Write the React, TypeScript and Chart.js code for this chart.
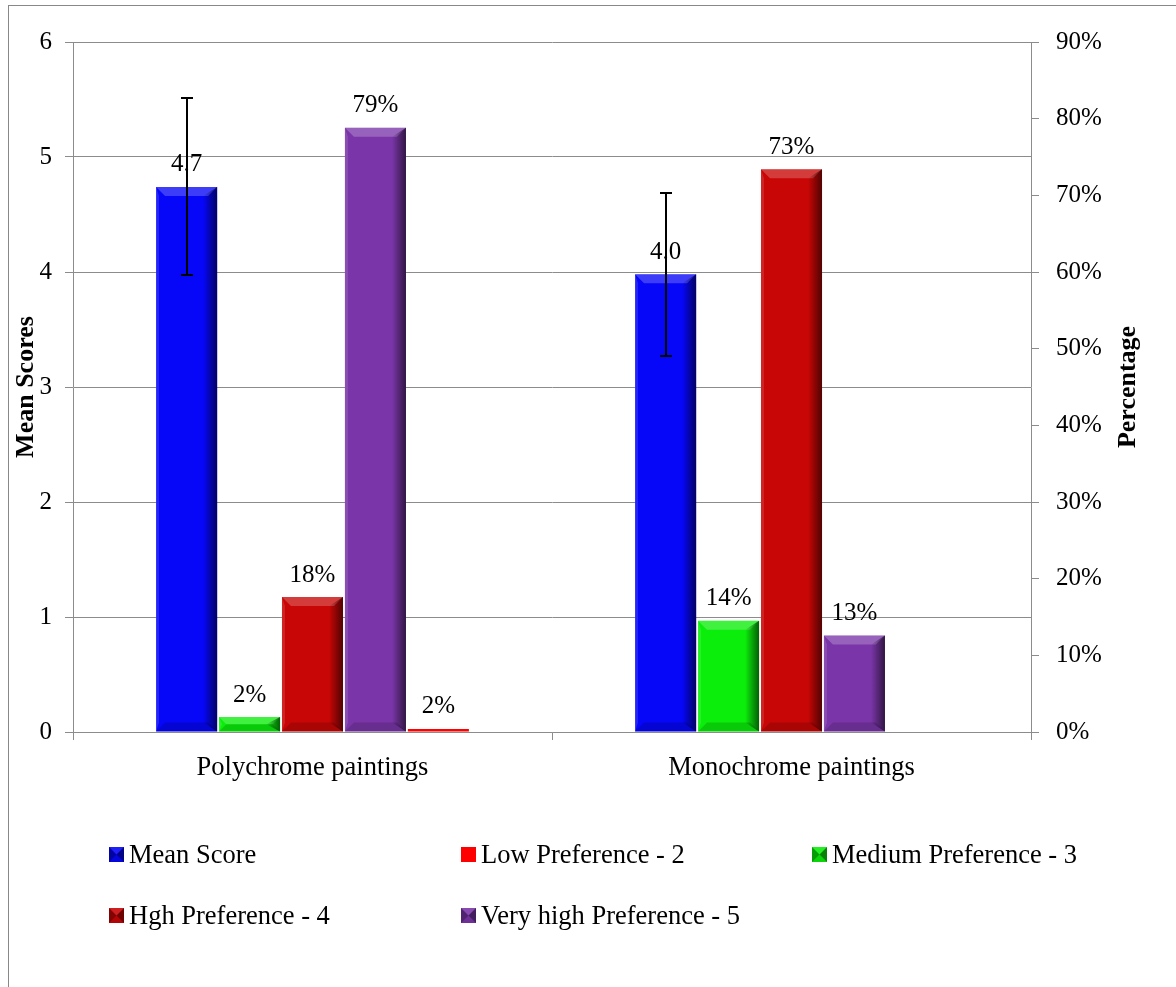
import React, { useEffect, useRef } from "react";
import { Chart, registerables } from "chart.js";

Chart.register(...registerables);

// ---------- data ----------
const categories = ["Polychrome paintings", "Monochrome paintings"];

const meanScore = [4.74, 3.98];
const meanError = [0.77, 0.71];
const meanLabels = ["4.7", "4.0"];

const lowPref = [0.4, 0];
const lowLabels = ["2%", ""];

const mediumPref = [1.96, 14.5];
const mediumLabels = ["2%", "14%"];

const highPref = [17.6, 73.4];
const highLabels = ["18%", "73%"];

const veryHighPref = [78.8, 12.6];
const veryHighLabels = ["79%", "13%"];

const leftMax = 6;
const leftStep = 1;
const rightMax = 90;
const rightStep = 10;

const legendOrder = [
  "Mean Score",
  "Low Preference - 2",
  "Medium Preference - 3",
  "Hgh Preference - 4",
  "Very high Preference - 5",
];

const SERIF = "'Liberation Serif', 'Times New Roman', serif";
const GRID = "#8c8c8c";

function drawBevelBar(ctx: CanvasRenderingContext2D, l: number, r: number, t: number, b: number) {
  const h = b - t;
  const w = r - l;
  if (h < 4) return;
  const bv = Math.min(9, h / 2, w / 2);
  ctx.save();
  // top highlight
  ctx.beginPath();
  ctx.moveTo(l, t);
  ctx.lineTo(r, t);
  ctx.lineTo(r - bv, t + bv);
  ctx.lineTo(l + bv, t + bv);
  ctx.closePath();
  ctx.fillStyle = "rgba(255,255,255,0.22)";
  ctx.fill();
  // bottom shade
  ctx.beginPath();
  ctx.moveTo(l, b);
  ctx.lineTo(r, b);
  ctx.lineTo(r - bv, b - bv);
  ctx.lineTo(l + bv, b - bv);
  ctx.closePath();
  ctx.fillStyle = "rgba(0,0,0,0.15)";
  ctx.fill();
  // right shade gradient
  const g = ctx.createLinearGradient(r - 14, 0, r, 0);
  g.addColorStop(0, "rgba(0,0,0,0)");
  g.addColorStop(1, "rgba(0,0,0,0.6)");
  ctx.beginPath();
  ctx.moveTo(r - 14, t + bv);
  ctx.lineTo(r, t);
  ctx.lineTo(r, b);
  ctx.lineTo(r - 14, b - bv);
  ctx.closePath();
  ctx.fillStyle = g;
  ctx.fill();
  // left slight highlight
  ctx.beginPath();
  ctx.moveTo(l, t);
  ctx.lineTo(l + 3, t + bv);
  ctx.lineTo(l + 3, b - bv);
  ctx.lineTo(l, b);
  ctx.closePath();
  ctx.fillStyle = "rgba(255,255,255,0.12)";
  ctx.fill();
  ctx.restore();
}

const decorPlugin = {
  id: "decor",
  beforeDraw(chart: any) {
    const ctx = chart.ctx;
    ctx.save();
    ctx.fillStyle = "#ffffff";
    ctx.fillRect(0, 0, chart.width, chart.height);
    ctx.strokeStyle = "#888888";
    ctx.lineWidth = 1;
    ctx.strokeRect(8.5, 5.5, 3000, 3000);
    ctx.restore();
  },
  afterDatasetsDraw(chart: any) {
    const ctx = chart.ctx;
    chart.data.datasets.forEach((ds: any, i: number) => {
      const meta = chart.getDatasetMeta(i);
      meta.data.forEach((bar: any) => {
        const p = bar.getProps(["x", "y", "base", "width"], true);
        const l = p.x - p.width / 2;
        const r = p.x + p.width / 2;
        const t = Math.min(p.y, p.base);
        const b = Math.max(p.y, p.base);
        drawBevelBar(ctx, l, r, t, b);
      });
    });
    // value labels
    chart.data.datasets.forEach((ds: any, i: number) => {
      const meta = chart.getDatasetMeta(i);
      meta.data.forEach((bar: any, j: number) => {
        const txt = ds.valueLabels ? ds.valueLabels[j] : "";
        if (!txt) return;
        const p = bar.getProps(["x", "y"], true);
        ctx.save();
        ctx.font = `25px ${SERIF}`;
        ctx.fillStyle = "#000";
        ctx.textAlign = "center";
        ctx.textBaseline = "middle";
        ctx.fillText(txt, p.x, p.y - 22);
        ctx.restore();
      });
    });
    // error bars
    chart.data.datasets.forEach((ds: any, i: number) => {
      if (!ds.errors) return;
      const meta = chart.getDatasetMeta(i);
      const ys = chart.scales[ds.yAxisID];
      meta.data.forEach((bar: any, j: number) => {
        const v = ds.data[j];
        const e = ds.errors[j];
        const p = bar.getProps(["x"], true);
        const yt = Math.round(ys.getPixelForValue(v + e));
        const yb = Math.round(ys.getPixelForValue(v - e));
        const x = Math.round(p.x);
        ctx.save();
        ctx.strokeStyle = "#000";
        ctx.lineWidth = 2;
        ctx.beginPath();
        ctx.moveTo(x, yt);
        ctx.lineTo(x, yb);
        ctx.moveTo(x - 6, yt);
        ctx.lineTo(x + 6, yt);
        ctx.moveTo(x - 6, yb);
        ctx.lineTo(x + 6, yb);
        ctx.stroke();
        ctx.restore();
      });
    });
  },
  afterDraw(chart: any) {
    const ctx = chart.ctx;
    // right axis title
    ctx.save();
    ctx.translate(1128, 387);
    ctx.rotate(-Math.PI / 2);
    ctx.font = `bold 26px ${SERIF}`;
    ctx.fillStyle = "#000";
    ctx.textAlign = "center";
    ctx.textBaseline = "middle";
    ctx.fillText("Percentage", 0, 0);
    ctx.restore();

    // legend in grid layout
    const cols = [109, 461, 812];
    const rows = [856, 917];
    legendOrder.forEach((label, k) => {
      const ds = chart.data.datasets.find((d: any) => d.label === label);
      if (!ds) return;
      const cx = cols[k % 3];
      const cy = rows[Math.floor(k / 3)];
      const s = 15;
      const mx = cx;
      const my = cy - 9;
      ctx.save();
      ctx.fillStyle = ds.backgroundColor;
      ctx.fillRect(mx, my, s, s);
      if (ds.bevel) {
        const c = { x: mx + s / 2, y: my + s / 2 };
        const tri = (pts: number[][], col: string) => {
          ctx.beginPath();
          ctx.moveTo(pts[0][0], pts[0][1]);
          ctx.lineTo(pts[1][0], pts[1][1]);
          ctx.lineTo(pts[2][0], pts[2][1]);
          ctx.closePath();
          ctx.fillStyle = col;
          ctx.fill();
        };
        tri([[mx, my], [mx, my + s], [c.x, c.y]], "rgba(0,0,0,0.35)");
        tri([[mx + s, my], [mx + s, my + s], [c.x, c.y]], "rgba(0,0,0,0.45)");
        tri([[mx, my], [mx + s, my], [c.x, c.y]], "rgba(255,255,255,0.1)");
        tri([[mx, my + s], [mx + s, my + s], [c.x, c.y]], "rgba(0,0,0,0.1)");
      }
      ctx.font = `26.5px ${SERIF}`;
      ctx.fillStyle = "#000";
      ctx.textAlign = "left";
      ctx.textBaseline = "middle";
      ctx.fillText(label, mx + s + 5, cy);
      ctx.restore();
    });
  },
};

export default function App() {
  const ref = useRef<HTMLCanvasElement | null>(null);

  useEffect(() => {
    if (!ref.current) return;
    const chart = new Chart(ref.current, {
      type: "bar",
      data: {
        labels: categories,
        datasets: [
          {
            label: "Mean Score",
            data: meanScore,
            yAxisID: "y",
            backgroundColor: "#0606f8",
            valueLabels: meanLabels,
            errors: meanError,
            bevel: true,
          } as any,
          {
            label: "Medium Preference - 3",
            data: mediumPref,
            yAxisID: "y1",
            backgroundColor: "#0bee0b",
            valueLabels: mediumLabels,
            bevel: true,
          } as any,
          {
            label: "Hgh Preference - 4",
            data: highPref,
            yAxisID: "y1",
            backgroundColor: "#c80606",
            valueLabels: highLabels,
            bevel: true,
          } as any,
          {
            label: "Very high Preference - 5",
            data: veryHighPref,
            yAxisID: "y1",
            backgroundColor: "#7a36a8",
            valueLabels: veryHighLabels,
            bevel: true,
          } as any,
          {
            label: "Low Preference - 2",
            data: lowPref,
            yAxisID: "y1",
            backgroundColor: "#ff0000",
            valueLabels: lowLabels,
            bevel: false,
          } as any,
        ],
      },
      options: {
        responsive: false,
        animation: false,
        devicePixelRatio: 1,
        layout: { padding: { top: 42, bottom: 195, left: 0, right: 0 } },
        datasets: {
          bar: { categoryPercentage: 0.657, barPercentage: 0.97 },
        },
        plugins: {
          legend: { display: false },
          tooltip: { enabled: false },
        },
        scales: {
          x: {
            type: "category",
            grid: {
              offset: true,
              drawOnChartArea: false,
              drawTicks: true,
              tickLength: 8,
              color: GRID,
            },
            border: { color: GRID },
            ticks: {
              font: { family: SERIF, size: 26.5 },
              color: "#000",
              padding: 12,
              maxRotation: 0,
            },
            afterFit: (s: any) => {
              s.height = 60;
            },
          },
          y: {
            position: "left",
            min: 0,
            max: leftMax,
            ticks: {
              stepSize: leftStep,
              font: { family: SERIF, size: 25 },
              color: "#000",
              padding: 13,
            },
            grid: { color: GRID, tickLength: 8 },
            border: { color: GRID },
            title: {
              display: true,
              text: "Mean Scores",
              font: { family: SERIF, size: 26, weight: "bold" },
              color: "#000",
              padding: { top: 11, bottom: 0 },
            },
            afterFit: (s: any) => {
              s.width = 73;
            },
          },
          y1: {
            position: "right",
            min: 0,
            max: rightMax,
            ticks: {
              stepSize: rightStep,
              font: { family: SERIF, size: 25 },
              color: "#000",
              padding: 17,
              callback: (v: any) => `${v}%`,
            },
            grid: { drawOnChartArea: false, color: GRID, tickLength: 8 },
            border: { color: GRID },
            afterFit: (s: any) => {
              s.width = 145;
            },
          },
        },
      } as any,
      plugins: [decorPlugin],
    });
    return () => chart.destroy();
  }, []);

  return (
    <div
      style={{
        position: "fixed",
        left: 0,
        top: 0,
        width: 1176,
        height: 987,
        overflow: "hidden",
        background: "#fff",
      }}
    >
      <canvas ref={ref} width={1176} height={987} style={{ display: "block" }} />
    </div>
  );
}
